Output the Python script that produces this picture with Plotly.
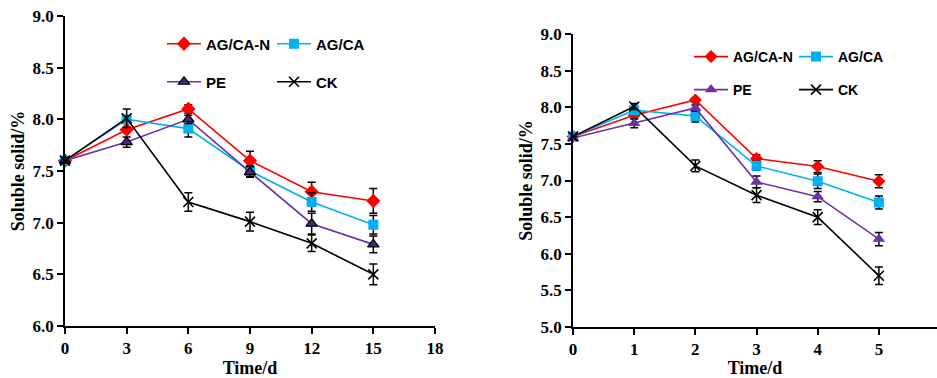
import plotly.graph_objects as go

# ---------------- data ----------------
series_names = ["AG/CA-N", "AG/CA", "PE", "CK"]

# left panel (days)
days_left = [0, 3, 6, 9, 12, 15]
left_agcan = [7.6, 7.9, 8.1, 7.6, 7.3, 7.21]
left_agca = [7.6, 8.0, 7.91, 7.5, 7.2, 6.98]
left_pe = [7.6, 7.78, 8.0, 7.49, 6.99, 6.79]
left_ck = [7.6, 8.01, 7.2, 7.01, 6.8, 6.5]
left_agcan_err = [0.0, 0.02, 0.04, 0.09, 0.09, 0.12]
left_agca_err = [0.0, 0.03, 0.08, 0.05, 0.09, 0.09]
left_pe_err = [0.0, 0.05, 0.04, 0.05, 0.1, 0.08]
left_ck_err = [0.0, 0.09, 0.09, 0.09, 0.08, 0.1]

# right panel (days)
days_right = [0, 1, 2, 3, 4, 5]
right_agcan = [7.6, 7.89, 8.1, 7.3, 7.19, 6.99]
right_agca = [7.6, 7.96, 7.88, 7.2, 6.99, 6.7]
right_pe = [7.58, 7.78, 7.99, 6.98, 6.78, 6.2]
right_ck = [7.6, 8.01, 7.2, 6.8, 6.5, 5.7]
right_agcan_err = [0.0, 0.03, 0.03, 0.05, 0.08, 0.09]
right_agca_err = [0.0, 0.03, 0.08, 0.06, 0.1, 0.09]
right_pe_err = [0.0, 0.06, 0.04, 0.08, 0.07, 0.09]
right_ck_err = [0.0, 0.04, 0.08, 0.1, 0.1, 0.12]

left_xticks = [0, 3, 6, 9, 12, 15, 18]
left_yticks = [6.0, 6.5, 7.0, 7.5, 8.0, 8.5, 9.0]
right_xticks = [0, 1, 2, 3, 4, 5]
right_yticks = [5.0, 5.5, 6.0, 6.5, 7.0, 7.5, 8.0, 8.5, 9.0]

# ---------------- styles ----------------
colors = {"AG/CA-N": "#FF0000", "AG/CA": "#00B0F0", "PE": "#7030A0", "CK": "#000000"}

W, H = 937, 378
fig = go.Figure()


def add_series(x, y, err, name, xa, ya, legend, big):
    c = colors[name]
    if name == "AG/CA-N":
        marker = dict(symbol="diamond", size=11 if big else 10, color=c)
    elif name == "AG/CA":
        marker = dict(symbol="square", size=10 if big else 10, color=c)
    elif name == "PE":
        if big:
            marker = dict(symbol="triangle-up", size=10, color="#3F2A7E",
                          line=dict(color="#000000", width=1.2))
        else:
            marker = dict(symbol="triangle-up", size=11, color=c)
    else:
        marker = dict(symbol="x-thin", size=10, color=c,
                      line=dict(color=c, width=1.6))
    fig.add_trace(go.Scatter(
        x=x, y=y, name=name, mode="lines+markers",
        line=dict(color=c, width=1.6), marker=marker,
        error_y=dict(type="data", array=err, color="#000000", thickness=1.5, width=4),
        xaxis=xa, yaxis=ya, legend=legend, cliponaxis=False,
    ))


add_series(days_left, left_agcan, left_agcan_err, "AG/CA-N", "x", "y", "legend", True)
add_series(days_left, left_agca, left_agca_err, "AG/CA", "x", "y", "legend", True)
add_series(days_left, left_pe, left_pe_err, "PE", "x", "y", "legend2", True)
add_series(days_left, left_ck, left_ck_err, "CK", "x", "y", "legend2", True)

add_series(days_right, right_agcan, right_agcan_err, "AG/CA-N", "x2", "y2", "legend3", False)
add_series(days_right, right_agca, right_agca_err, "AG/CA", "x2", "y2", "legend3", False)
add_series(days_right, right_pe, right_pe_err, "PE", "x2", "y2", "legend4", False)
add_series(days_right, right_ck, right_ck_err, "CK", "x2", "y2", "legend4", False)

tickfont = dict(family="Liberation Serif", size=17, color="#000000", weight="bold")
titlefont = dict(family="Liberation Serif", size=18, color="#000000", weight="bold")
axis_common = dict(showline=True, linecolor="#000000", linewidth=1.5, ticks="outside",
                   ticklen=6, tickwidth=1.5, tickcolor="#000000", showgrid=False,
                   zeroline=False, tickfont=tickfont, automargin=False, fixedrange=True)

legfont_l = dict(family="Liberation Sans", size=15, color="#000000", weight="bold")
legfont_r = dict(family="Liberation Sans", size=14, color="#000000", weight="bold")
leg_common = dict(orientation="h", bgcolor="rgba(0,0,0,0)", borderwidth=0, itemwidth=34,
                  xanchor="left", yanchor="middle", tracegroupgap=0, itemclick=False)

fig.update_layout(
    width=W, height=H,
    margin=dict(l=0, r=0, t=0, b=0),
    paper_bgcolor="#FFFFFF", plot_bgcolor="rgba(0,0,0,0)",
    xaxis=dict(domain=[65 / W, 435 / W], range=[0, 18], tickvals=left_xticks,
               title=dict(text="Time/d", font=titlefont, standoff=5), anchor="y",
               **axis_common),
    yaxis=dict(domain=[1 - 326 / H, 1 - 16 / H], range=[6, 9], tickvals=left_yticks,
               tickformat=".1f", title=dict(text="Soluble solid/%", font=titlefont, standoff=3),
               anchor="x", **axis_common),
    xaxis2=dict(domain=[573 / W, 1.0], range=[0, 5.95], tickvals=right_xticks,
                title=dict(text="Time/d", font=titlefont, standoff=5), anchor="y2",
                **axis_common),
    yaxis2=dict(domain=[1 - 327 / H, 1 - 34 / H], range=[5, 9], tickvals=right_yticks,
                tickformat=".1f", title=dict(text="Soluble solid/%", font=titlefont, standoff=3),
                anchor="x2", **axis_common),
    legend=dict(x=162 / W, y=1 - 44 / H, font=legfont_l, entrywidth=61, **leg_common),
    legend2=dict(x=162 / W, y=1 - 82 / H, font=legfont_l, entrywidth=61, **leg_common),
    legend3=dict(x=689 / W, y=1 - 57 / H, font=legfont_r, entrywidth=56, **leg_common),
    legend4=dict(x=689 / W, y=1 - 90 / H, font=legfont_r, entrywidth=56, **leg_common),
)

fig.write_html("out.html", config={"displayModeBar": False},
               post_script="document.body.style.margin='0';")
